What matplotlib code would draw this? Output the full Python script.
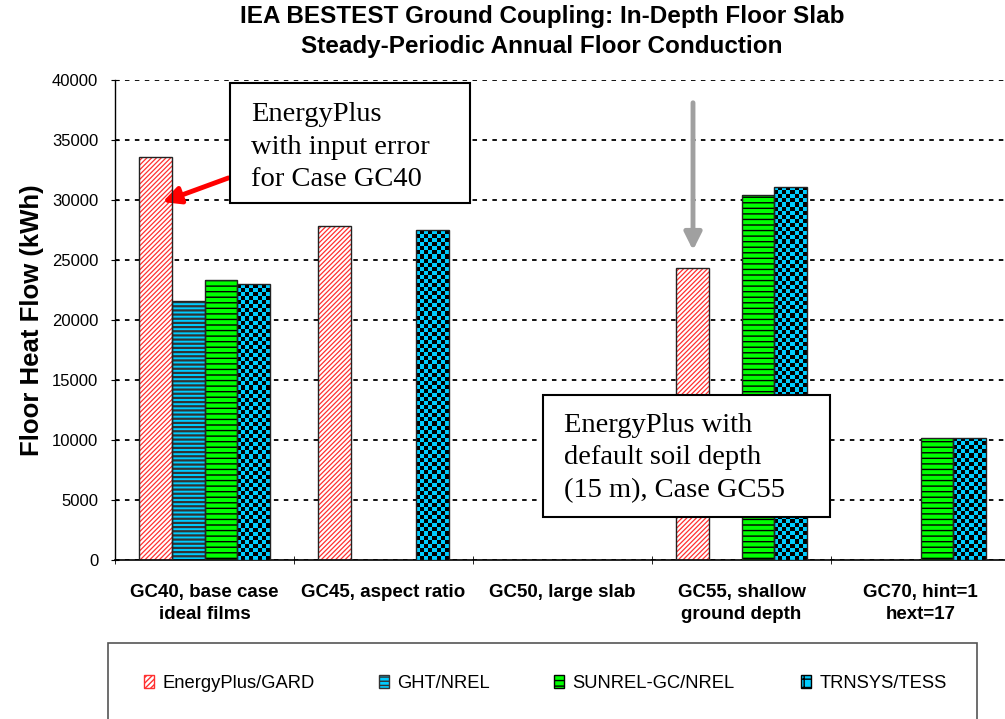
import numpy as np
import matplotlib.pyplot as plt
import matplotlib as mpl
from matplotlib.patches import Rectangle, Patch

plt.rcParams['font.family'] = ['Liberation Sans', 'DejaVu Sans']

# cases on the x axis
cases = ['GC40, base case\nideal films', 'GC45, aspect ratio', 'GC50, large slab',
         'GC55, shallow\nground depth', 'GC70, hint=1\nhext=17']

# annual floor conduction, kWh (nan = no result)
energyplus = [33600, 27800, np.nan, 24300, np.nan]
ght = [21550, np.nan, np.nan, np.nan, np.nan]
sunrel = [23300, np.nan, np.nan, 30400, 10200]
trnsys = [23000, 27500, np.nan, 31100, 10200]

series = ['EnergyPlus/GARD', 'GHT/NREL', 'SUNREL-GC/NREL', 'TRNSYS/TESS']

W, H = 1005, 719
fig = plt.figure(figsize=(W / 100, H / 100), dpi=100)
ax = fig.add_axes([115 / W, 1 - 560 / H, 895 / W, 480 / H])

x = np.arange(len(cases))
w = 0.182
cyan = '#00CCFF'

def hatched(vals, j, face, hatch, hcolor, hlw):
    with mpl.rc_context({'hatch.linewidth': hlw}):
        b = ax.bar(x + (j - 1.5) * w, vals, w, color=face, hatch=hatch,
                   edgecolor=hcolor, linewidth=0, zorder=2)
    ax.bar(x + (j - 1.5) * w, vals, w, fill=False, edgecolor='#222222',
           linewidth=1.0, zorder=4)
    return b

hatched(energyplus, 0, 'white', '///////', '#FF3030', 0.9)
hatched(ght, 1, cyan, '----', '#333333', 1.6)
hatched(sunrel, 2, '#00FF00', '---', 'black', 1.0)
tb = ax.bar(x + 1.5 * w, trnsys, w, color=cyan, linewidth=0, zorder=2)
ax.bar(x + 1.5 * w, trnsys, w, fill=False, edgecolor='#222222', linewidth=1.0, zorder=4)

# checkerboard fill for TRNSYS bars
cmap = mpl.colors.ListedColormap([cyan, 'black'])
for r in tb:
    h = r.get_height()
    if not np.isfinite(h) or h <= 0:
        continue
    nr = max(int(round(h / 340)), 1)
    nc = 8
    chk = (np.add.outer(np.arange(nr), np.arange(nc)) % 2).astype(float)
    im = ax.imshow(chk, cmap=cmap, aspect='auto', interpolation='nearest',
                   extent=(r.get_x(), r.get_x() + r.get_width(), 0, h),
                   origin='lower', zorder=3)
    im.set_clip_path(r)

ax.set_xlim(-0.5, 4.5)
ax.set_ylim(0, 40000)
ax.set_yticks(np.arange(0, 40001, 5000))
ax.tick_params(axis='y', labelsize=12, direction='inout', length=6, pad=9)
ax.set_xticks(x)
ax.set_xticklabels(cases, fontsize=13.5, fontweight='bold', linespacing=1.45)
ax.tick_params(axis='x', length=0, pad=17)
ax.set_xticks(np.arange(-0.5, 5, 1), minor=True)
ax.tick_params(axis='x', which='minor', length=6, direction='inout')
ax.yaxis.grid(True, color='black', linestyle=(0, (2.5, 3)), linewidth=1.3, zorder=1)
ax.set_axisbelow(True)
for s in ['top', 'right']:
    ax.spines[s].set_visible(False)
ax.spines['left'].set_linewidth(1.0)
ax.spines['bottom'].set_linewidth(1.2)

ax.set_ylabel('Floor Heat Flow (kWh)', fontsize=18.5, fontweight='bold', labelpad=6)

fig.text(542 / W, 1 - 17 / H, 'IEA BESTEST Ground Coupling: In-Depth Floor Slab',
         ha='center', va='center', fontsize=17.5, fontweight='bold')
fig.text(542 / W, 1 - 46 / H, 'Steady-Periodic Annual Floor Conduction',
         ha='center', va='center', fontsize=17.5, fontweight='bold')

def fpx(px, py):
    return (px / W, 1 - py / H)

# annotation boxes
fig.patches.append(Rectangle(fpx(230, 203), 240 / W, 120 / H, transform=fig.transFigure,
                             facecolor='white', edgecolor='black', linewidth=1.5, zorder=5))
fig.text(*fpx(251, 147), 'EnergyPlus\nwith input error\nfor Case GC40', family='Liberation Serif',
         fontsize=20.5, ha='left', va='center', linespacing=1.4, zorder=6)
fig.patches.append(Rectangle(fpx(543, 517), 287 / W, 122 / H, transform=fig.transFigure,
                             facecolor='white', edgecolor='black', linewidth=1.5, zorder=5))
fig.text(*fpx(564, 458), 'EnergyPlus with\ndefault soil depth\n(15 m), Case GC55',
         family='Liberation Serif', fontsize=20.5, ha='left', va='center', linespacing=1.4,
         zorder=6)

ax.annotate('', xy=fpx(160, 203), xytext=fpx(231, 177), xycoords='figure fraction',
            textcoords='figure fraction',
            arrowprops=dict(arrowstyle='-|>', color='red', lw=3.5, mutation_scale=26))
ax.annotate('', xy=fpx(693, 253), xytext=fpx(693, 100), xycoords='figure fraction',
            textcoords='figure fraction',
            arrowprops=dict(arrowstyle='-|>', color='#A0A0A0', lw=3.5, mutation_scale=26))

# legend box and entries
fig.patches.append(Rectangle(fpx(108, 725), 869 / W, 82 / H, transform=fig.transFigure,
                             facecolor='white', edgecolor='#555555', linewidth=1.2, zorder=0))
handles = [Patch(facecolor='white', edgecolor='#FF3030', hatch='//////'),
           Patch(facecolor=cyan, edgecolor='#333333', hatch='----'),
           Patch(facecolor='#00FF00', edgecolor='black', hatch='---'),
           Patch(facecolor=cyan, edgecolor='black', hatch='++')]
handle_x = [144, 379, 554, 801]
for hdl, lab, hx in zip(handles, series, handle_x):
    fig.legend([hdl], [lab], loc='center left', bbox_to_anchor=fpx(hx, 683), frameon=False,
               fontsize=13.2, handlelength=0.55, handleheight=0.7, handletextpad=0.45,
               borderpad=0, borderaxespad=0)

fig.savefig('out.png', dpi=100)
